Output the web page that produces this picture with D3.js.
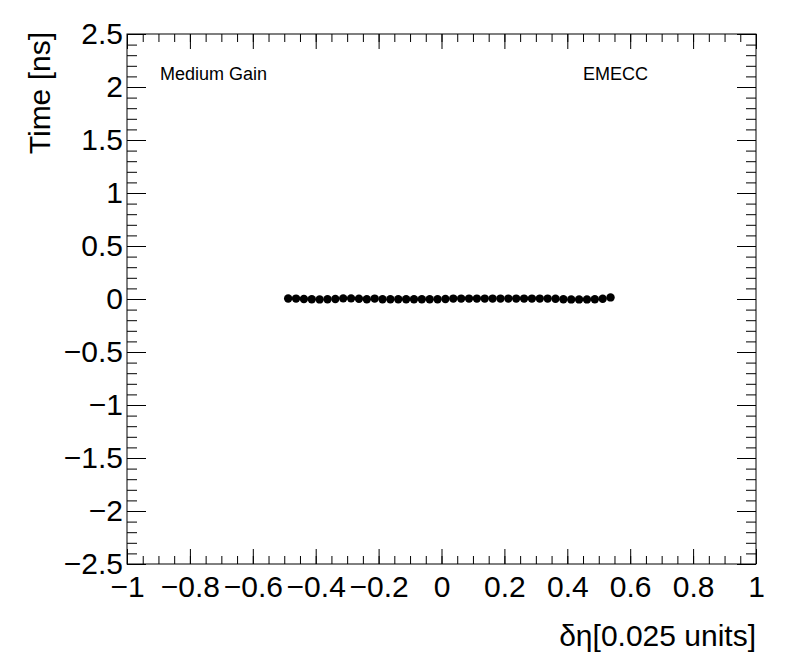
<!DOCTYPE html>
<html>
<head>
<meta charset="utf-8">
<script src="https://cdn.jsdelivr.net/npm/d3@7"></script>
<style>
  body { margin: 0; background: #fff; }
  text { font-family: 'Liberation Sans', Arial, Helvetica, sans-serif; }
</style>
</head>
<body>
<svg id="chart" width="796" height="672"></svg>
<script>
// Time vs delta eta, one point per 0.025 bin
const etaValues = [
  -0.4875, -0.4625, -0.4375, -0.4125, -0.3875, -0.3625, -0.3375, -0.3125, -0.2875, -0.2625,
  -0.2375, -0.2125, -0.1875, -0.1625, -0.1375, -0.1125, -0.0875, -0.0625, -0.0375, -0.0125,
  0.0125, 0.0375, 0.0625, 0.0875, 0.1125, 0.1375, 0.1625, 0.1875, 0.2125, 0.2375,
  0.2625, 0.2875, 0.3125, 0.3375, 0.3625, 0.3875, 0.4125, 0.4375, 0.4625, 0.4875,
  0.5125, 0.5375
];
const timeValues = [
  0.005, 0.004, 0.000, -0.003, -0.004, -0.003, 0.000, 0.006, 0.006, 0.003,
  -0.002, 0.004, -0.003, -0.002, -0.003, -0.002, -0.003, -0.002, -0.002, -0.002,
  0.000, 0.004, 0.004, 0.004, 0.004, 0.004, 0.004, 0.004, 0.004, 0.004,
  0.004, 0.004, 0.004, 0.004, 0.002, -0.003, -0.004, -0.004, -0.004, -0.003,
  0.002, 0.015
];
const xMajorTicks = [-1, -0.8, -0.6, -0.4, -0.2, 0, 0.2, 0.4, 0.6, 0.8, 1];
const yMajorTicks = [-2.5, -2, -1.5, -1, -0.5, 0, 0.5, 1, 1.5, 2, 2.5];

const points = etaValues.map((x, i) => ({ x: x, y: timeValues[i] }));

const padL = 127, padR = 756, padT = 34, padB = 564;
const svg = d3.select("#chart");

const x = d3.scaleLinear().domain([-1, 1]).range([padL, padR]);
const y = d3.scaleLinear().domain([-2.5, 2.5]).range([padB, padT]);

const xMinor = d3.range(-1, 1.0001, 0.05).map(v => +v.toFixed(3));
const yMinor = d3.range(-2.5, 2.5001, 0.1).map(v => +v.toFixed(3));
const fmt = d => d3.format("")(d).replace("-", "\u2212");

function styleAxis(g) {
  g.select(".domain").remove();
  g.selectAll(".tick line").attr("stroke", "#000").attr("stroke-width", 1);
}

// bottom axis with labels
svg.append("g")
  .attr("transform", `translate(0,${padB})`)
  .call(d3.axisBottom(x).tickValues(xMinor).tickSize(-8).tickFormat(""))
  .call(styleAxis);
svg.append("g")
  .attr("transform", `translate(0,${padB})`)
  .call(d3.axisBottom(x).tickValues(xMajorTicks).tickSize(-15).tickFormat(fmt))
  .call(styleAxis)
  .call(g => g.selectAll("text").attr("font-size", 30).attr("fill", "#000").attr("y", 11).attr("dy", "0.72em"));

// top axis, ticks only
svg.append("g")
  .attr("transform", `translate(0,${padT})`)
  .call(d3.axisTop(x).tickValues(xMinor).tickSize(-8).tickFormat(""))
  .call(styleAxis);
svg.append("g")
  .attr("transform", `translate(0,${padT})`)
  .call(d3.axisTop(x).tickValues(xMajorTicks).tickSize(-15).tickFormat(""))
  .call(styleAxis);

// left axis with labels
svg.append("g")
  .attr("transform", `translate(${padL},0)`)
  .call(d3.axisLeft(y).tickValues(yMinor).tickSize(-10).tickFormat(""))
  .call(styleAxis);
svg.append("g")
  .attr("transform", `translate(${padL},0)`)
  .call(d3.axisLeft(y).tickValues(yMajorTicks).tickSize(-19).tickFormat(fmt))
  .call(styleAxis)
  .call(g => g.selectAll("text").attr("font-size", 30).attr("fill", "#000").attr("x", -4).attr("dy", "0.33em"));

// right axis, ticks only
svg.append("g")
  .attr("transform", `translate(${padR},0)`)
  .call(d3.axisRight(y).tickValues(yMinor).tickSize(-10).tickFormat(""))
  .call(styleAxis);
svg.append("g")
  .attr("transform", `translate(${padR},0)`)
  .call(d3.axisRight(y).tickValues(yMajorTicks).tickSize(-19).tickFormat(""))
  .call(styleAxis);

// frame
svg.append("rect")
  .attr("x", padL).attr("y", padT)
  .attr("width", padR - padL).attr("height", padB - padT)
  .attr("fill", "none").attr("stroke", "#000").attr("stroke-width", 1);

// markers
svg.selectAll("circle.pt")
  .data(points)
  .enter()
  .append("circle")
  .attr("class", "pt")
  .attr("cx", d => x(d.x))
  .attr("cy", d => y(d.y))
  .attr("r", 4.2)
  .attr("fill", "#000");

// axis titles
svg.append("text")
  .attr("x", padR)
  .attr("y", 646)
  .attr("text-anchor", "end")
  .attr("font-size", 30)
  .attr("fill", "#000")
  .text("δη[0.025 units]");

svg.append("text")
  .attr("transform", `translate(50,${padT - 2}) rotate(-90)`)
  .attr("text-anchor", "end")
  .attr("font-size", 30)
  .attr("fill", "#000")
  .text("Time [ns]");

// labels
svg.append("text")
  .attr("x", 160).attr("y", 80)
  .attr("font-size", 18)
  .attr("fill", "#000")
  .text("Medium Gain");

svg.append("text")
  .attr("x", 583).attr("y", 80)
  .attr("font-size", 18)
  .attr("fill", "#000")
  .text("EMECC");
</script>
</body>
</html>
